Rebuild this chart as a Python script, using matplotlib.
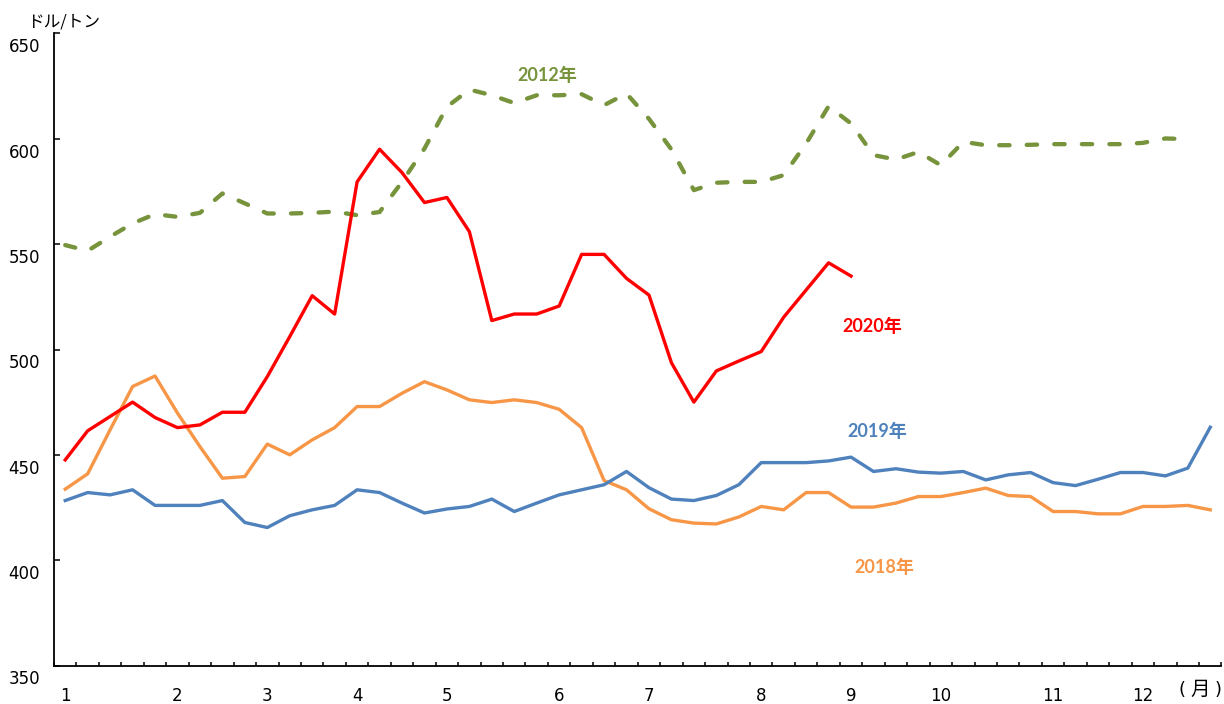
import matplotlib
matplotlib.use("Agg")
import matplotlib.pyplot as plt
import matplotlib.transforms as mtransforms
import numpy as np

# ---- data (weekly, US$/t) ----
month_labels = ["1", "2", "3", "4", "5", "6", "7", "8", "9", "10", "11", "12"]
month_week_index = [0, 5, 9, 13, 17, 22, 26, 31, 35, 39, 44, 48]

y2012 = [549.6, 546.9, 553.6, 559.9, 564.3, 563.0, 564.9, 574.1, 569.4, 564.6,
         564.6, 564.9, 565.5, 563.8, 565.3, 579.6, 595.4, 615.2, 623.4, 620.7,
         617.0, 620.7, 620.7, 621.2, 616.0, 621.5, 609.5, 595.0, 575.7, 579.2,
         579.6, 579.6, 582.8, 597.8, 615.5, 607.3, 592.3, 590.2, 593.8, 587.5,
         598.6, 597.0, 597.0, 597.2, 597.5, 597.5, 597.5, 597.5, 598.1, 600.2,
         599.9]

y2018 = [433.8, 441.1, 462.0, 482.5, 487.5, 469.9, 454.0, 439.0, 439.8, 455.2,
         450.1, 457.2, 463.0, 473.0, 473.0, 479.3, 484.8, 480.9, 476.2, 474.9,
         476.2, 474.9, 471.7, 463.0, 437.9, 433.5, 424.5, 419.3, 417.7, 417.3,
         420.6, 425.6, 424.0, 432.2, 432.2, 425.3, 425.3, 427.2, 430.3, 430.3,
         432.2, 434.3, 430.8, 430.3, 423.2, 423.2, 422.1, 422.1, 425.6, 425.6,
         426.1, 424.0]

y2019 = [428.4, 432.2, 431.1, 433.5, 426.1, 426.1, 426.1, 428.4, 418.0, 415.6,
         421.2, 424.0, 426.1, 433.5, 432.2, 427.2, 422.5, 424.4, 425.6, 429.1,
         423.2, 427.2, 431.1, 433.5, 435.9, 442.2, 434.5, 429.1, 428.4, 430.8,
         435.9, 446.4, 446.4, 446.4, 447.2, 449.0, 442.2, 443.5, 441.9, 441.4,
         442.2, 438.2, 440.6, 441.7, 436.9, 435.5, 438.5, 441.7, 441.7, 440.1,
         443.8, 463.2]

y2020 = [447.7, 461.5, 468.3, 475.1, 467.8, 463.0, 464.3, 470.3, 470.3, 487.2,
         506.2, 525.6, 516.9, 579.6, 595.1, 584.0, 569.8, 572.2, 556.0, 513.8,
         516.9, 516.9, 520.7, 545.2, 545.2, 533.8, 525.9, 493.8, 475.1, 489.9,
         494.6, 499.1, 515.4, 528.3, 541.2, 534.9]

y_ticks = [350, 400, 450, 500, 550, 600, 650]

C2012 = "#77933C"
C2018 = "#F79646"
C2019 = "#4F81BD"
C2020 = "#FF0000"

plt.rcParams["font.family"] = ["DejaVu Sans", "Noto Sans CJK JP"]

fig = plt.figure(figsize=(12.24, 7.04), dpi=100)
W, H = 1224, 704
x0, x1 = 54, 1221.5
ytop, ybot = 33.5, 665.8
ax = fig.add_axes([x0 / W, (H - ybot) / H, (x1 - x0) / W, (ybot - ytop) / H])

ax.plot(np.arange(len(y2012)), y2012, color=C2012, lw=3.1,
        dashes=(2.4, 4.0), dash_capstyle="round", zorder=2)
ax.plot(np.arange(len(y2018)), y2018, color=C2018, lw=2.4, zorder=3,
        solid_joinstyle="round")
ax.plot(np.arange(len(y2019)), y2019, color=C2019, lw=2.4, zorder=4,
        solid_joinstyle="round")
ax.plot(np.arange(len(y2020)), y2020, color=C2020, lw=2.4, zorder=5,
        solid_joinstyle="round")

ax.set_xlim(-0.5, 51.5)
ax.set_ylim(350, 650)

for s in ["top", "right"]:
    ax.spines[s].set_visible(False)
for s in ["left", "bottom"]:
    ax.spines[s].set_linewidth(1.3)
    ax.spines[s].set_color("black")

ax.set_yticks(y_ticks)
ax.set_yticklabels([str(v) for v in y_ticks])
ax.tick_params(axis="y", direction="in", length=4, width=1.1, pad=10,
               labelsize=12)
offset = mtransforms.ScaledTranslation(0, -11.7 / 100, fig.dpi_scale_trans)
for lab in ax.get_yticklabels():
    lab.set_transform(lab.get_transform() + offset)

ax.set_xticks(month_week_index)
ax.set_xticklabels(month_labels)
ax.set_xticks(np.arange(-0.5, 52, 1), minor=True)
ax.tick_params(axis="x", which="major", length=0, pad=15.5, labelsize=12)
ax.tick_params(axis="x", which="minor", direction="in", length=3, width=1.1)

lab_font = ["Lato", "Noto Sans CJK JP"]
ax.text(21.46, 630, "2012年", color=C2012, fontsize=13, fontweight="bold",
        family=lab_font, ha="center", va="center")
ax.text(35.94, 511.2, "2020年", color=C2020, fontsize=13, fontweight="bold",
        family=lab_font, ha="center", va="center")
ax.text(36.16, 461.0, "2019年", color=C2019, fontsize=13, fontweight="bold",
        family=lab_font, ha="center", va="center")
ax.text(36.5, 396.8, "2018年", color=C2018, fontsize=13, fontweight="bold",
        family=lab_font, ha="center", va="center")

fig.text(27 / W, 1 - 22 / H, "ドル/トン", fontsize=12, family=["Noto Sans CJK JP"],
         ha="left", va="center")
jp = ["Noto Sans CJK JP"]
fig.text(1182 / W, 1 - 690 / H, "(", fontsize=13, family=["DejaVu Sans"],
         ha="center", va="center")
fig.text(1200 / W, 1 - 689 / H, "月", fontsize=14, family=jp, ha="center", va="center")
fig.text(1218 / W, 1 - 690 / H, ")", fontsize=13, family=["DejaVu Sans"],
         ha="center", va="center")

fig.savefig("out.png", dpi=100)
